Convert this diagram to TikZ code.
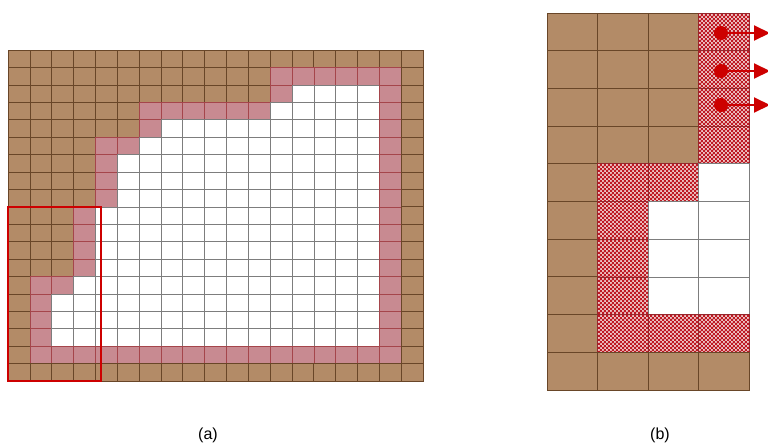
\documentclass[tikz,border=0pt]{standalone}
\usepackage{fontspec}
\setmainfont{Liberation Sans}
\usetikzlibrary{patterns.meta,arrows.meta}
\definecolor{brownc}{RGB}{179,139,103}
\definecolor{brownline}{RGB}{105,70,40}
\definecolor{redc}{RGB}{205,0,0}
\definecolor{checkred}{RGB}{190,25,35}
\definecolor{pinka}{RGB}{200,138,145}
\definecolor{pinkb}{RGB}{238,200,200}
\definecolor{pinkline}{RGB}{150,40,45}
\definecolor{gridgray}{RGB}{125,125,125}
\tikzdeclarepattern{name=checkB,type=uncolored,bottom left={(0pt,0pt)},top right={(4.4pt,4.4pt)},tile size={(4.4pt,4.4pt)},
  code={\fill (0pt,0pt) rectangle (2.3pt,2.3pt); \fill (2.2pt,2.2pt) rectangle (4.5pt,4.5pt);}}
\tikzset{
  aB/.style={fill=brownc,draw=brownline,line width=0.6pt},
  aW/.style={fill=white,draw=gridgray,line width=0.5pt},
  aP/.style={fill=pinka,draw=pinkline!70!pinka,line width=0.5pt},
  bB/.style={fill=brownc,draw=brownline,line width=0.9pt},
  bW/.style={fill=white,draw=gridgray,line width=0.8pt},
  bP/.style={preaction={fill=pinkb},pattern={checkB},pattern color=checkred,draw=pinkline,line width=0.8pt},
  dot/.style={circle,fill=redc,inner sep=0pt,minimum size=14pt},
  flowarrow/.style={draw=redc,line width=2pt,-{Triangle[length=16pt,width=15pt]}},
  caption/.style={font=\fontsize{16}{18}\selectfont,inner sep=0pt}
}
\newcommand{\rowA}[2]{%
  \foreach \t [count=\c from 0] in {#2}{%
    \path[a\t] (8+\c*21.842,50+#1*17.421) rectangle ++(21.842,17.421);
  }}
\newcommand{\rowB}[2]{%
  \foreach \t [count=\c from 0] in {#2}{%
    \path[b\t] (547+\c*50.5,13+#1*37.7) rectangle ++(50.5,37.7);
  }}
\begin{document}
\begin{tikzpicture}[x=1pt,y=-1pt]
\useasboundingbox (0,0) rectangle (768,445);
% ---- (a) ----
\rowA{0}{B,B,B,B,B,B,B,B,B,B,B,B,B,B,B,B,B,B,B}
\rowA{1}{B,B,B,B,B,B,B,B,B,B,B,B,P,P,P,P,P,P,B}
\rowA{2}{B,B,B,B,B,B,B,B,B,B,B,B,P,W,W,W,W,P,B}
\rowA{3}{B,B,B,B,B,B,P,P,P,P,P,P,W,W,W,W,W,P,B}
\rowA{4}{B,B,B,B,B,B,P,W,W,W,W,W,W,W,W,W,W,P,B}
\rowA{5}{B,B,B,B,P,P,W,W,W,W,W,W,W,W,W,W,W,P,B}
\rowA{6}{B,B,B,B,P,W,W,W,W,W,W,W,W,W,W,W,W,P,B}
\rowA{7}{B,B,B,B,P,W,W,W,W,W,W,W,W,W,W,W,W,P,B}
\rowA{8}{B,B,B,B,P,W,W,W,W,W,W,W,W,W,W,W,W,P,B}
\rowA{9}{B,B,B,P,W,W,W,W,W,W,W,W,W,W,W,W,W,P,B}
\rowA{10}{B,B,B,P,W,W,W,W,W,W,W,W,W,W,W,W,W,P,B}
\rowA{11}{B,B,B,P,W,W,W,W,W,W,W,W,W,W,W,W,W,P,B}
\rowA{12}{B,B,B,P,W,W,W,W,W,W,W,W,W,W,W,W,W,P,B}
\rowA{13}{B,P,P,W,W,W,W,W,W,W,W,W,W,W,W,W,W,P,B}
\rowA{14}{B,P,W,W,W,W,W,W,W,W,W,W,W,W,W,W,W,P,B}
\rowA{15}{B,P,W,W,W,W,W,W,W,W,W,W,W,W,W,W,W,P,B}
\rowA{16}{B,P,W,W,W,W,W,W,W,W,W,W,W,W,W,W,W,P,B}
\rowA{17}{B,P,P,P,P,P,P,P,P,P,P,P,P,P,P,P,P,P,B}
\rowA{18}{B,B,B,B,B,B,B,B,B,B,B,B,B,B,B,B,B,B,B}
\draw[redc,line width=2pt] (8,207) rectangle (101,381);
% ---- (b) ----
\rowB{0}{B,B,B,P}
\rowB{1}{B,B,B,P}
\rowB{2}{B,B,B,P}
\rowB{3}{B,B,B,P}
\rowB{4}{B,P,P,W}
\rowB{5}{B,P,W,W}
\rowB{6}{B,P,W,W}
\rowB{7}{B,P,W,W}
\rowB{8}{B,P,P,P}
\rowB{9}{B,B,B,B}
\node[dot] (d1) at (721,33) {};
\node[dot] (d2) at (721,71) {};
\node[dot] (d3) at (721,105) {};
\coordinate (e1) at (770,33);
\coordinate (e2) at (770,71);
\coordinate (e3) at (770,105);
\draw[flowarrow] (d1.center) -- (e1);
\draw[flowarrow] (d2.center) -- (e2);
\draw[flowarrow] (d3.center) -- (e3);
% ---- captions ----
\node[caption] (capa) at (208,435) {(a)};
\node[caption] (capb) at (660,435) {(b)};
\end{tikzpicture}
\end{document}
